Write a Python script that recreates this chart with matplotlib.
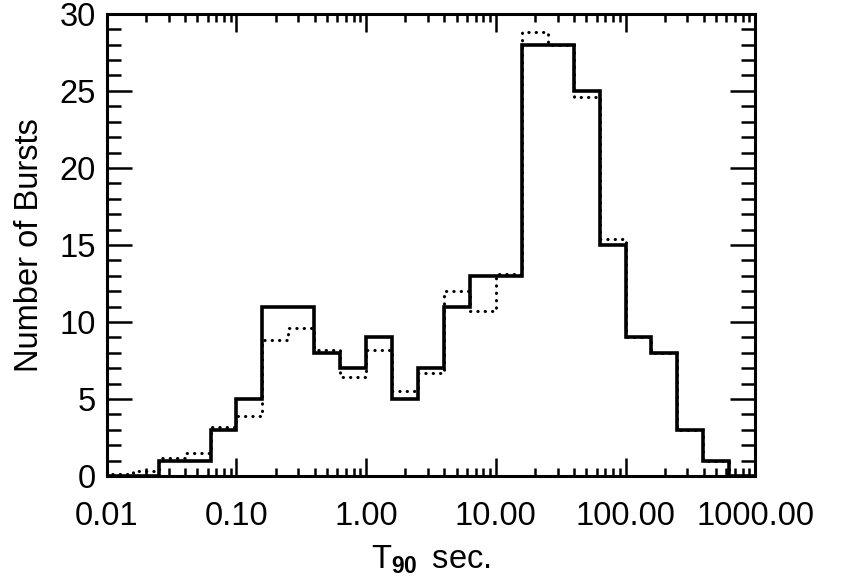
import numpy as np
import matplotlib
matplotlib.use("Agg")
import matplotlib.pyplot as plt
from matplotlib.ticker import FixedLocator, NullFormatter

plt.rcParams['font.family'] = ['Liberation Sans', 'DejaVu Sans']
plt.rcParams['mathtext.fontset'] = 'custom'
plt.rcParams['mathtext.rm'] = 'Liberation Sans'
plt.rcParams['mathtext.bf'] = 'Liberation Sans:bold'
plt.rcParams['font.size'] = 23.5

# bin edges in log10(T90), 0.2 dex wide
log_edges = [-2.0, -1.8, -1.6, -1.4, -1.2, -1.0, -0.8, -0.6, -0.4, -0.2, 0.0,
             0.2, 0.4, 0.6, 0.8, 1.0, 1.2, 1.4, 1.6, 1.8, 2.0, 2.2, 2.4, 2.6, 2.8, 3.0]

solid_counts = [0, 0, 1, 1, 3, 5, 11, 11, 8, 7, 9, 5, 7, 11, 13, 13,
                28, 28, 25, 15, 9, 8, 3, 1, 0]
dotted_counts = [0.1, 0.3, 1.2, 1.5, 3.2, 3.9, 8.8, 9.6, 8.2, 6.4, 8.2, 5.5, 6.7, 12.0,
                 10.7, 13.1, 28.8, 28.0, 24.6, 15.4, 9, 8, 3, 1, 0]

xtick_vals = [0.01, 0.1, 1.0, 10.0, 100.0, 1000.0]
xtick_labels = ["0.01", "0.10", "1.00", "10.00", "100.00", "1000.00"]

edges = 10 ** np.array(log_edges)

fig = plt.figure(figsize=(8.41, 5.77), dpi=100)
ax = fig.add_axes([0.127, 0.175, 0.771, 0.801])

ax.stairs(dotted_counts, edges, color='black', linewidth=2.2,
          linestyle=(0, (0.1, 2.3)), capstyle='round', zorder=2)
ax.stairs(solid_counts, edges, color='black', linewidth=2.6, zorder=3)

ax.set_xscale('log')
ax.set_xlim(0.01, 1000)
ax.set_ylim(0, 30)

ax.xaxis.set_major_locator(FixedLocator(xtick_vals))
ax.set_xticklabels(xtick_labels)
minors = [m * d for d in [0.01, 0.1, 1, 10, 100] for m in range(2, 10)]
ax.xaxis.set_minor_locator(FixedLocator(minors))
ax.xaxis.set_minor_formatter(NullFormatter())

ax.set_yticks(range(0, 31, 5))
ax.set_yticks(range(0, 31, 1), minor=True)

for s in ax.spines.values():
    s.set_linewidth(2.2)

ax.tick_params(axis='both', which='both', direction='in', top=True, right=True, width=1.8)
ax.tick_params(axis='x', which='major', length=13, pad=18)
ax.tick_params(axis='x', which='minor', length=6)
ax.tick_params(axis='y', which='major', length=18, pad=8)
ax.tick_params(axis='y', which='minor', length=10)

ax.set_xlabel(r"T$_{\mathbf{90}}$ $\,$sec.", labelpad=8)
ax.set_ylabel("Number of Bursts", labelpad=10)

fig.savefig("out.png", dpi=100)
